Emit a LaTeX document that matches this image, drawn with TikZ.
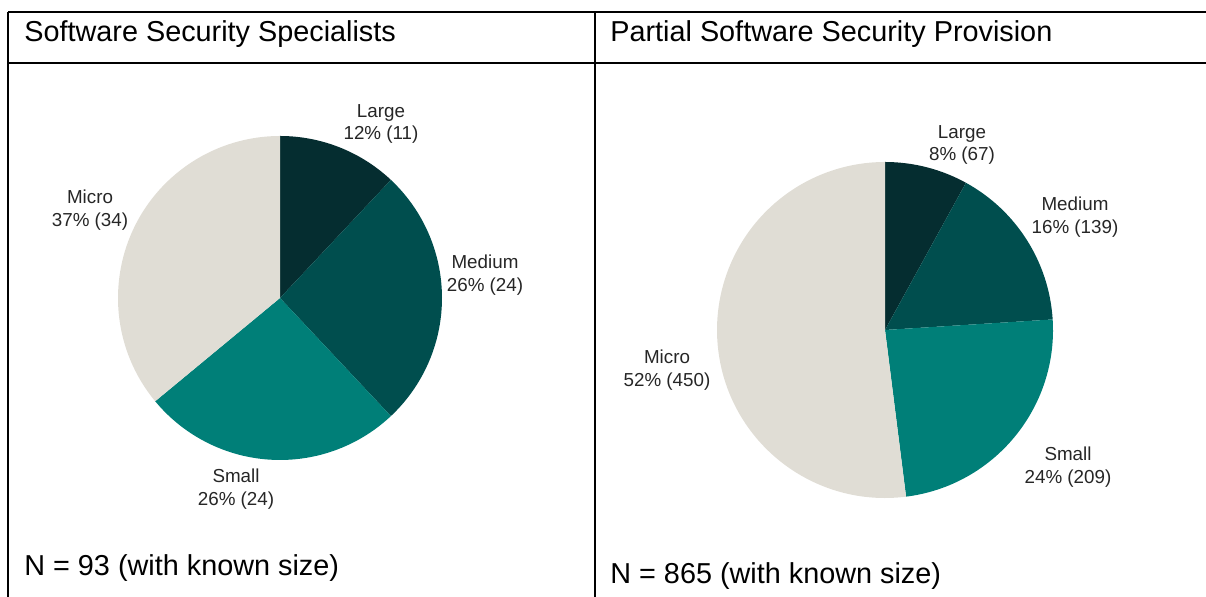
\documentclass[tikz,border=0pt]{standalone}
\usepackage{fontspec}
\setmainfont{Liberation Sans}
\usepackage{tikz}
\usetikzlibrary{positioning, calc}
\definecolor{sizeLarge}{HTML}{052D30}
\definecolor{sizeMedium}{HTML}{004E4E}
\definecolor{sizeSmall}{HTML}{007F78}
\definecolor{sizeMicro}{HTML}{E0DDD5}
\tikzset{
  rule/.style={draw=black, line width=1.1pt},
  thinrule/.style={draw=black, line width=0.6pt},
  heading/.style={anchor=west, inner sep=0pt, font=\fontsize{16.4}{19}\selectfont},
  slicelabel/.style={
    align=center, inner sep=0pt, text=black!85,
    font=\fontsize{10.7}{13}\selectfont
  }
}

\begin{document}
\begin{tikzpicture}[x=0.02cm, y=0.02cm]
  \useasboundingbox (0,0) rectangle (1206,597);

  % table frame
  \draw[rule] (8,585) -- (1206,585);
  \draw[rule] (8,585) -- (8,0);
  \draw[rule] (595,585) -- (595,0);
  \draw[thinrule] (8,534) -- (555,534);
  \draw[rule] (555,534) -- (1206,534);

  \node[heading] (headA) at (24,563) {Software Security Specialists};
  \node[heading] (headB) at (610,563) {Partial Software Security Provision};

  % left pie
  \coordinate (pieA) at (280,299);
  \fill[sizeLarge] (pieA) -- ++(90:162) arc[start angle=90, end angle=46.8, radius=162] -- cycle;
  \fill[sizeMedium] (pieA) -- ++(46.8:162) arc[start angle=46.8, end angle=-46.8, radius=162] -- cycle;
  \fill[sizeSmall] (pieA) -- ++(-46.8:162) arc[start angle=-46.8, end angle=-140.4, radius=162] -- cycle;
  \fill[sizeMicro] (pieA) -- ++(-140.4:162) arc[start angle=-140.4, end angle=-270, radius=162] -- cycle;

  \node[slicelabel] (largeA) at (381,473) {Large\\12\% (11)};
  \node[slicelabel] (mediumA) at (485,322) {Medium\\26\% (24)};
  \node[slicelabel] (smallA) at (236,108) {Small\\26\% (24)};
  \node[slicelabel] (microA) at (90,387) {Micro\\37\% (34)};

  % right pie
  \coordinate (pieB) at (885,267);
  \fill[sizeLarge] (pieB) -- ++(90:168) arc[start angle=90, end angle=61.2, radius=168] -- cycle;
  \fill[sizeMedium] (pieB) -- ++(61.2:168) arc[start angle=61.2, end angle=3.6, radius=168] -- cycle;
  \fill[sizeSmall] (pieB) -- ++(3.6:168) arc[start angle=3.6, end angle=-82.8, radius=168] -- cycle;
  \fill[sizeMicro] (pieB) -- ++(-82.8:168) arc[start angle=-82.8, end angle=-270, radius=168] -- cycle;

  \node[slicelabel] (largeB) at (962,452) {Large\\8\% (67)};
  \node[slicelabel] (mediumB) at (1075,380) {Medium\\16\% (139)};
  \node[slicelabel] (smallB) at (1068,130) {Small\\24\% (209)};
  \node[slicelabel] (microB) at (667,227) {Micro\\52\% (450)};

  \node[heading] (countA) at (24,29) {N = 93 (with known size)};
  \node[heading] (countB) at (610,21) {N = 865 (with known size)};
\end{tikzpicture}
\end{document}
